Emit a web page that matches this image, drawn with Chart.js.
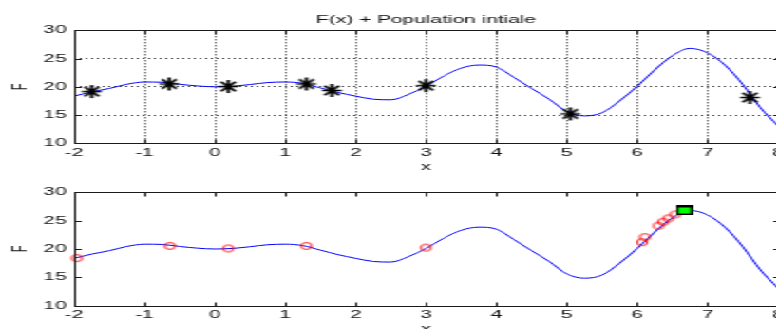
<!DOCTYPE html>
<html><head><meta charset="utf-8">
<script src="https://cdn.jsdelivr.net/npm/chart.js@4/dist/chart.umd.min.js"></script>
<style>
html,body{margin:0;padding:0;background:#fff;overflow:hidden;width:776px;height:329px;}
#wrap{position:absolute;left:0;top:0;width:448px;height:340px;transform:scaleX(1.9);transform-origin:0 0;}
#c1{position:absolute;left:0;top:0;}
#c2{position:absolute;left:0;top:160px;}
</style></head><body>
<div id="wrap"><canvas id="c1" width="448" height="176"></canvas><canvas id="c2" width="448" height="180"></canvas></div>
<script>
// ---- data ----
const curveX = [-2,-1.75,-1.5,-1.25,-1,-0.75,-0.5,-0.25,0,0.25,0.5,0.75,1,1.25,1.5,1.75,2,2.25,2.5,2.75,3,3.25,3.5,3.75,4,4.25,4.5,4.75,5,5.25,5.5,5.75,6,6.25,6.5,6.75,7,7.25,7.5,7.75,8];
const curveF = [18.35,19.1,19.7,20.45,20.85,20.8,20.45,20.15,20.0,20.1,20.4,20.75,20.85,20.6,19.8,19.0,18.35,17.8,17.7,18.65,20.1,21.9,23.3,23.85,23.5,21.65,19.7,17.8,15.6,14.85,15.4,17.5,20.1,23.0,25.5,26.8,26.0,23.8,20.4,16.3,13.1];
const initX = [-1.75,-0.65,0.19,1.3,1.66,3.0,5.05,7.6];
const initF = [19.15,20.5,20.05,20.5,19.35,20.2,15.2,18.1];
const finalX = [-1.96,-0.64,0.19,1.3,3.0,6.07,6.11,6.3,6.37,6.44,6.54];
const finalF = [18.4,20.55,20.1,20.55,20.25,21.2,22.1,24.1,24.8,25.4,26.1];
const bestX = [6.67];
const bestF = [26.8];
const xTickValues = [-2,-1,0,1,2,3,4,5,6,7,8];
const yTickValues = [10,15,20,25,30];
const titleText = 'F(x) + Population intiale';
const xTitle = 'x';
const yTitle = 'F';

const pts = (xs, ys) => xs.map((v, i) => ({x: v, y: ys[i]}));

// ---- marker glyphs ----
function mk(w, h, draw) { const c = document.createElement('canvas'); c.width = w; c.height = h; draw(c.getContext('2d'), w, h); return c; }
const starImg = mk(12, 15, (g, w, h) => {
  const cx = w/2, cy = h/2;
  g.strokeStyle = '#000'; g.lineWidth = 1.7; g.lineCap = 'butt';
  g.beginPath();
  g.moveTo(cx-5.2, cy); g.lineTo(cx+5.2, cy);
  g.moveTo(cx, cy-6.5); g.lineTo(cx, cy+6.5);
  g.moveTo(cx-3.8, cy-4.7); g.lineTo(cx+3.8, cy+4.7);
  g.moveTo(cx+3.8, cy-4.7); g.lineTo(cx-3.8, cy+4.7);
  g.stroke();
});
const ringImg = mk(8, 10, (g, w, h) => {
  g.strokeStyle = '#ff0000'; g.lineWidth = 0.9;
  g.beginPath(); g.ellipse(w/2, h/2, 2.7, 3.5, 0, 0, Math.PI*2); g.stroke();
});
const boxImg = mk(9, 10, (g, w, h) => {
  g.fillStyle = '#000'; g.fillRect(0, 0, w, h);
  g.fillStyle = '#00ff00'; g.fillRect(1.3, 2, w-2.6, h-4);
});

Chart.defaults.font.family = "'Liberation Sans', Arial, sans-serif";
Chart.defaults.font.size = 11;
Chart.defaults.color = '#111';

const frame = {
  id: 'frame',
  afterDraw(chart, args, o) {
    const {ctx, chartArea: a} = chart;
    const xs = chart.scales.x, ys = chart.scales.y;
    const L = Math.round(a.left) + 0.5, R = Math.round(a.right) + 0.5;
    const T = Math.round(a.top) + 0.5, B = Math.round(a.bottom) + 0.5;
    ctx.save();
    ctx.setLineDash([]);
    ctx.strokeStyle = '#1a1a1a'; ctx.lineWidth = 1;
    ctx.beginPath();
    xs.ticks.forEach(t => {
      const p = Math.round(xs.getPixelForValue(t.value)) + 0.5;
      ctx.moveTo(p, B); ctx.lineTo(p, B - 4);
      ctx.moveTo(p, T); ctx.lineTo(p, T + 4);
    });
    ys.ticks.forEach(t => {
      const p = Math.round(ys.getPixelForValue(t.value)) + 0.5;
      ctx.moveTo(L, p); ctx.lineTo(L + 3.5, p);
      ctx.moveTo(R, p); ctx.lineTo(R - 3.5, p);
    });
    ctx.stroke();
    ctx.strokeRect(L, T, R - L, B - T);
    if (o && o.text) {
      ctx.fillStyle = '#111';
      ctx.font = "11px 'Liberation Sans', Arial, sans-serif";
      ctx.textAlign = 'center'; ctx.textBaseline = 'middle';
      ctx.fillText(o.text, (a.left + a.right) / 2, 19.5);
    }
    ctx.restore();
  }
};

function makeChart(id, datasets, opts) {
  return new Chart(document.getElementById(id), {
    type: 'scatter',
    data: {datasets},
    plugins: [frame],
    options: {
      responsive: false, animation: false, devicePixelRatio: 1,
      layout: {padding: {left: 0, right: 38.5, top: opts.padTop, bottom: 0}},
      plugins: {
        legend: {display: false}, tooltip: {enabled: false}, title: {display: false},
        frame: {text: opts.title ? titleText : ''}
      },
      scales: {
        x: {
          type: 'linear', min: -2, max: 8,
          afterBuildTicks: s => { s.ticks = xTickValues.map(v => ({value: v})); },
          afterFit: s => { s.height = opts.xH; },
          ticks: {padding: 2.9, color: '#111', font: {size: 11}},
          grid: {display: opts.grid, drawTicks: false, color: '#333', lineWidth: 1},
          border: {display: false, dash: [1, 2]},
          title: {display: true, text: xTitle, color: '#111', font: {size: 11}, padding: {top: 0, bottom: opts.xTitlePad}}
        },
        y: {
          min: 10, max: 30,
          afterBuildTicks: s => { s.ticks = yTickValues.map(v => ({value: v})); },
          afterFit: s => { s.width = 39; },
          ticks: {padding: 3.9, color: '#111', font: {size: 11}},
          grid: {display: opts.grid, drawTicks: false, color: '#333', lineWidth: 1},
          border: {display: false, dash: [1, 2]},
          title: {display: true, text: yTitle, color: '#111', font: {size: 11}, padding: {top: 4.2, bottom: 0}}
        }
      }
    }
  });
}

const lineDs = () => ({
  data: pts(curveX, curveF), showLine: true, borderColor: '#0000ff', borderWidth: 1,
  pointRadius: 0, cubicInterpolationMode: 'monotone', fill: false
});

makeChart('c1', [
  {data: pts(initX, initF), pointStyle: starImg, pointRadius: 6, showLine: false, clip: false},
  lineDs()
], {title: true, padTop: 30.3, xH: 32.7, xTitlePad: 2.5, grid: true});

makeChart('c2', [
  {data: pts(bestX, bestF), pointStyle: boxImg, pointRadius: 6, showLine: false, clip: false},
  {data: pts(finalX, finalF), pointStyle: ringImg, pointRadius: 5, showLine: false, clip: false},
  lineDs()
], {title: false, padTop: 32.3, xH: 34.3, xTitlePad: 4.2, grid: false});
</script>
</body></html>
